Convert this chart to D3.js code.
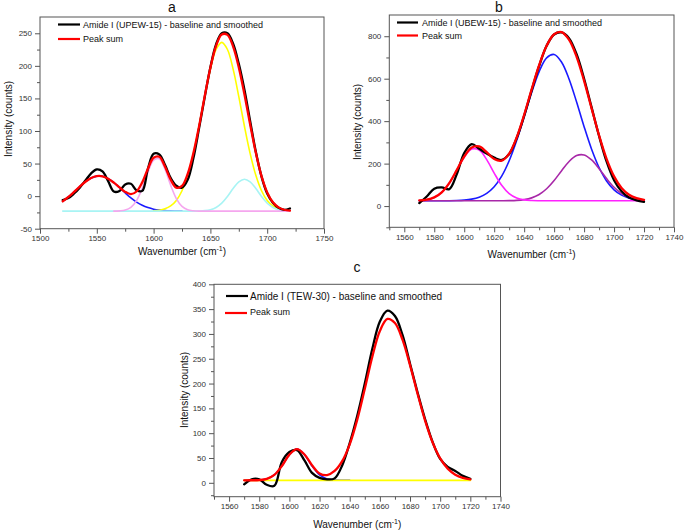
<!DOCTYPE html>
<html><head><meta charset="utf-8">
<script src="https://cdn.jsdelivr.net/npm/d3@7"></script>
<style>body{margin:0;background:#fff}svg{display:block}text{font-family:Arial,"Liberation Sans",Helvetica,sans-serif}</style>
</head><body><svg id="chart" width="685" height="531"></svg>
<script>
// ---------- Panel a (UPEW-15) ----------
const aWave = [1520,1525,1530,1535,1540,1545,1550,1555,1560,1565,1570,1575,1580,1585,1590,1595,1600,1605,1610,1615,1620,1625,1630,1635,1640,1645,1650,1655,1660,1665,1670,1675,1680,1685,1690,1695,1700,1705,1710,1715,1720];
const aData = [-6,-3,4,13,24,35,41,38,23,7,8,18,19,9,8,42,65,64,48,28,16,13,25,58,104,152,198,233,250,250,234,203,163,115,68,30,4,-10,-18,-21,-19];
const aSum = [-8.0,-1.3,6.5,14.6,22.1,27.8,30.7,30.4,26.8,20.7,13.4,6.5,3.1,7.1,21.1,42.1,58.9,60.4,45.5,25.2,12.9,15.6,34.0,65.7,107.1,153.4,197.2,230.7,248.2,247.5,229.6,197.6,155.9,110.1,66.5,30.7,5.6,-9.5,-17.3,-20.9,-22.3];
const aBlue = [-8.0,-1.3,6.5,14.6,22.1,27.8,30.7,30.4,26.8,20.7,13.0,4.9,-2.7,-9.1,-14.1,-17.6,-20.0,-21.4,-22.2,-22.6,-22.8,-23.0,null,null,null,null,null,null,null,null,null,null,null,null,null,null,null,null,null,null,null];
const aPink = [null,null,null,null,null,null,null,null,null,-23.0,-22.6,-21.4,-17.2,-6.8,12.2,36.5,55.4,57.4,41.2,16.9,-3.7,-15.7,-20.9,-22.5,-23,-23,-23,-23,-23,-23,-23,-23,-23,-23,-23,-23,-23,-23,-23,-23,-23];
const aYellow = [null,null,null,null,null,null,null,null,null,null,null,null,null,null,null,null,-22.5,-21.6,-19.5,-15.1,-6.6,8.3,31.9,65.2,106.9,152.7,195.0,225.1,236.0,225.1,195.0,152.7,106.9,65.2,31.9,8.3,-6.6,-15.1,-19.5,-21.6,-22.5];
const aCyan = [-23,-23,-23,-23,-23,-23,-23,-23,-23,-23,-23,-23,-23,-23,-23,-23,-23,-23,-23,-23,-23,-23,-23,-23,-22.8,-22.3,-20.8,-17.4,-10.8,-0.6,11.6,21.9,26.0,21.9,11.6,-0.6,-10.8,-17.4,-20.8,-22.3,-22.8];
const aXTicks = [1500,1550,1600,1650,1700,1750];
const aXMinor = [1525,1575,1625,1675,1725];
const aYTicks = [-50,0,50,100,150,200,250];
const aYMinor = [-25,25,75,125,175,225];

// ---------- Panel b (UBEW-15) ----------
const bWave = [1570,1575,1580,1585,1590,1595,1600,1605,1610,1615,1620,1625,1630,1635,1640,1645,1650,1655,1660,1665,1670,1675,1680,1685,1690,1695,1700,1705,1710,1715,1720];
const bData = [14,45,82,88,80,150,250,292,270,247,228,217,245,320,425,545,660,755,808,818,790,715,600,465,330,210,122,70,40,27,20];
const bSum = [26.4,30.1,40.8,64.8,108.2,169.5,233.4,276.0,280.8,253.7,221.4,213.7,247.4,323.2,429.9,549.6,663.3,755.0,809.4,819.4,782.8,703.1,589.9,460.3,332.6,222.5,139.9,85.3,53.5,37.1,29.6];
const bBlue = [25,25,25,25.2,25.4,26.2,28.2,32.7,42.0,59.8,91.0,140.9,213.4,308.6,420.4,534.9,633.6,698.4,714,677.7,597.7,490.1,374.1,267.9,181.6,118.2,76.5,51.4,37.5,30.5,27.2];
const bMagenta = [26.4,30.1,40.7,64.6,107.8,168.3,230.2,268.3,263.8,218.9,155.4,97.6,58.4,37.7,29.0,26.1,25.2,25,25,25,25,25,25,25,25,25,25,25,25,25,25];
const bPurple = [25,25,25,25,25,25,25,25,25,25,25,25.2,25.6,26.9,30.5,38.6,54.5,81.6,120.4,166.7,210.1,238.0,240.8,217.4,176.0,129.3,88.4,58.9,41.0,31.6,27.4];
const bXTicks = [1560,1580,1600,1620,1640,1660,1680,1700,1720,1740];
const bXMinor = [1550,1570,1590,1610,1630,1650,1670,1690,1710,1730];
const bYTicks = [0,200,400,600,800];
const bYMinor = [-100,100,300,500,700];

// ---------- Panel c (TEW-30) ----------
const cWave = [1570,1575,1580,1585,1590,1595,1600,1605,1610,1615,1620,1625,1630,1635,1640,1645,1650,1655,1660,1665,1670,1675,1680,1685,1690,1695,1700,1705,1710,1715,1720];
const cData = [-3,7,7,-4,-6,42,62,66,45,20,10,7,9,35,80,135,200,270,325,347,336,298,240,182,128,82,48,32,24,14,8];
const cSum = [5.0,5.1,5.5,7.8,15.9,33.8,56.8,68.0,57.1,35.4,18.9,15.6,23.8,43.6,77.6,127.4,189.6,254.1,305.9,330.3,322.1,288.4,237.2,179.5,125.3,81.1,49.1,28.5,16.4,10.1,7.1];
const cBlue = [5,5.1,5.5,7.8,15.9,33.8,56.8,68,56.8,33.8,15.9,7.8,5.5,5.1,5.0,null,null,null,null,null,null,null,null,null,null,null,null,null,null,null,null];
const cBaseline = [5,5,5,5,5,5,5,5,5,5,5,5,5,5,5,5,5,5,5,5,5,5,5,5,5,5,5,5,5,5,5];
const cXTicks = [1560,1580,1600,1620,1640,1660,1680,1700,1720,1740];
const cXMinor = [1550,1570,1590,1610,1630,1650,1670,1690,1710,1730];
const cYTicks = [0,50,100,150,200,250,300,350,400];
const cYMinor = [-25,25,75,125,175,225,275,325,375];

const svg = d3.select("#chart");
svg.append("rect").attr("width",685).attr("height",531).attr("fill","#fff");

function drawPanel(p){
  const x = d3.scaleLinear().domain(p.xDom).range([p.left,p.right]);
  const y = d3.scaleLinear().domain(p.yDom).range([p.bottom,p.top]);
  const g = svg.append("g");
  const axCol = "#555";
  const style = s => {
    s.select(".domain").remove();
    s.selectAll("line").attr("stroke",axCol);
    s.selectAll("text").attr("fill","#333").attr("font-size",8).attr("font-family","Arial, 'Liberation Sans', sans-serif");
  };
  g.append("g").attr("transform",`translate(0,${p.bottom})`)
    .call(d3.axisBottom(x).tickValues(p.xMinor).tickSize(3).tickFormat("")).call(style);
  g.append("g").attr("transform",`translate(0,${p.bottom})`)
    .call(d3.axisBottom(x).tickValues(p.xTicks).tickSize(5).tickPadding(p.xPad).tickFormat(d=>String(d))).call(style);
  g.append("g").attr("transform",`translate(${p.left},0)`)
    .call(d3.axisLeft(y).tickValues(p.yMinor).tickSize(3).tickFormat("")).call(style);
  g.append("g").attr("transform",`translate(${p.left},0)`)
    .call(d3.axisLeft(y).tickValues(p.yTicks).tickSize(5).tickPadding(3).tickFormat(d=>String(d))).call(style);
  g.append("rect").attr("x",p.left).attr("y",p.top).attr("width",p.right-p.left).attr("height",p.bottom-p.top)
    .attr("fill","none").attr("stroke",axCol).attr("stroke-width",1);

  const line = vals => d3.line()
    .defined((d,i)=>vals[i]!=null)
    .x((d,i)=>x(p.wave[i])).y((d,i)=>y(vals[i]))
    .curve(d3.curveCatmullRom.alpha(0.5))(vals);
  p.series.forEach(s=>{
    g.append("path").attr("d",line(s.vals)).attr("fill","none")
      .attr("stroke",s.color).attr("stroke-width",s.w).attr("stroke-linejoin","round").attr("stroke-linecap","round");
  });
  p.legend.forEach(l=>{
    g.append("line").attr("x1",l.x1).attr("x2",l.x2).attr("y1",l.ly).attr("y2",l.ly)
      .attr("stroke",l.color).attr("stroke-width",2.2);
    g.append("text").attr("x",l.tx).attr("y",l.ty).attr("font-size",l.fs).attr("fill","#111").text(l.label);
  });
  g.append("text").attr("x",p.titleX).attr("y",p.titleY).attr("text-anchor","middle")
    .attr("font-size",14).attr("fill","#111").text(p.title);
  const xt = g.append("text").attr("x",(p.left+p.right)/2).attr("y",p.xLabY).attr("text-anchor","middle")
    .attr("font-size",10).attr("fill","#111");
  xt.append("tspan").text("Wavenumber (cm");
  xt.append("tspan").attr("font-size",7).attr("dy",-4).text("-1");
  xt.append("tspan").attr("dy",4).text(")");
  g.append("text").attr("transform",`translate(${p.yLabX},${p.yLabY}) rotate(-90)`)
    .attr("text-anchor","middle").attr("font-size",10).attr("fill","#111").text("Intensity (counts)");
}

drawPanel({
  xDom:[1500,1750], yDom:[-50,275], left:40, right:324, top:17, bottom:228.7,
  xTicks:aXTicks, xMinor:aXMinor, yTicks:aYTicks, yMinor:aYMinor, xPad:2,
  wave:aWave,
  series:[
    {vals:aBlue,color:"#1a1aff",w:1.6},
    {vals:aYellow,color:"#ffff00",w:1.6},
    {vals:aCyan,color:"#a8f4f4",w:1.6},
    {vals:aPink,color:"#f5a6ee",w:1.6},
    {vals:aData,color:"#000",w:2.3},
    {vals:aSum,color:"#ff0000",w:2.3}
  ],
  legend:[
    {x1:58,x2:80,ly:24.5,tx:83,ty:27.8,fs:9,color:"#000",label:"Amide I (UPEW-15) - baseline and smoothed"},
    {x1:58,x2:80,ly:39,tx:83,ty:42.3,fs:9,color:"#ff0000",label:"Peak sum"}
  ],
  title:"a", titleX:172, titleY:12, xLabY:255, yLabX:12, yLabY:119
});

drawPanel({
  xDom:[1550,1740], yDom:[-100,900], left:389.3, right:674, top:15, bottom:227.3,
  xTicks:bXTicks, xMinor:bXMinor, yTicks:bYTicks, yMinor:bYMinor, xPad:2,
  wave:bWave,
  series:[
    {vals:bBlue,color:"#1a1aff",w:1.6},
    {vals:bPurple,color:"#a828a8",w:1.6},
    {vals:bMagenta,color:"#ff22ff",w:1.6},
    {vals:bData,color:"#000",w:2.3},
    {vals:bSum,color:"#ff0000",w:2.3}
  ],
  legend:[
    {x1:397,x2:418,ly:22.5,tx:422,ty:25.8,fs:9,color:"#000",label:"Amide I (UBEW-15) - baseline and smoothed"},
    {x1:397,x2:418,ly:35.5,tx:422,ty:38.8,fs:9,color:"#ff0000",label:"Peak sum"}
  ],
  title:"b", titleX:499, titleY:12, xLabY:258, yLabX:361, yLabY:122
});

drawPanel({
  xDom:[1550,1740], yDom:[-28,400], left:214, right:500.5, top:284.3, bottom:496.7,
  xTicks:cXTicks, xMinor:cXMinor, yTicks:cYTicks, yMinor:cYMinor, xPad:2,
  wave:cWave,
  series:[
    {vals:cBlue,color:"#1a1aff",w:1.6},
    {vals:cBaseline,color:"#ffff00",w:1.8},
    {vals:cData,color:"#000",w:2.3},
    {vals:cSum,color:"#ff0000",w:2.3}
  ],
  legend:[
    {x1:226,x2:248,ly:296,tx:250,ty:299.6,fs:10,color:"#000",label:"Amide I (TEW-30) - baseline and smoothed"},
    {x1:225,x2:247,ly:313,tx:250,ty:314.5,fs:9,color:"#ff0000",label:"Peak sum"}
  ],
  title:"c", titleX:357, titleY:272, xLabY:528, yLabX:188, yLabY:390
});
</script></body></html>
